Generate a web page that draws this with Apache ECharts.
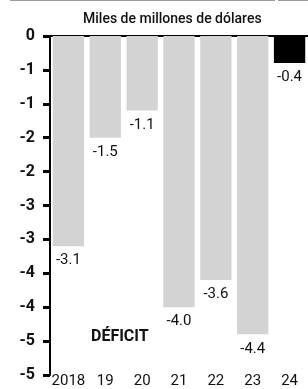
<!DOCTYPE html>
<html>
<head>
<meta charset="utf-8">
<script src="https://cdn.jsdelivr.net/npm/echarts@6/dist/echarts.min.js"></script>
<style>
    html, body { margin: 0; padding: 0; background: #fff; }
    #chart { width: 308px; height: 389px; }
</style>
</head>
<body>
<div id="chart"></div>
<script>
const years = ['2018', '19', '20', '21', '22', '23', '24'];
const deficit = [-3.1, -1.5, -1.1, -4.0, -3.6, -4.4, -0.4];
// tick labels as printed on the original, one per 0.5 step from 0 down
const yTickLabels = ['0', '-1', '-1', '-2', '-2', '-3', '-3', '-4', '-4', '-5', '-5'];

const FONT = 'Roboto, "Liberation Sans", sans-serif';

const chart = echarts.init(document.getElementById('chart'));

const option = {
    animation: false,
    title: {
        text: 'Miles de millones de dólares',
        left: 78,
        top: 7,
        textStyle: {
            fontFamily: FONT,
            fontSize: 14,
            fontWeight: 500,
            color: '#111'
        }
    },
    grid: {
        left: 50,
        top: 36,
        width: 263,
        height: 340
    },
    xAxis: [
        {
            type: 'category',
            data: years,
            position: 'bottom',
            axisLine: { show: false },
            axisTick: { show: false },
            axisLabel: {
                interval: 0,
                margin: -1,
                fontFamily: FONT,
                fontSize: 15,
                color: '#111'
            }
        },
        {
            // zero line along the top
            type: 'category',
            data: years,
            position: 'top',
            axisLine: { show: true, lineStyle: { color: '#000', width: 2 } },
            axisTick: { show: false },
            axisLabel: { show: false }
        }
    ],
    yAxis: {
        type: 'value',
        min: -5,
        max: 0,
        interval: 0.5,
        splitLine: { show: false },
        axisLine: { show: true, lineStyle: { color: '#000', width: 2 } },
        axisTick: { show: true, length: 7, lineStyle: { color: '#000', width: 3 } },
        axisLabel: {
            margin: 15,
            fontFamily: FONT,
            fontSize: 16,
            fontWeight: 'bold',
            color: '#111',
            formatter: (v) => yTickLabels[Math.round(-v / 0.5)]
        }
    },
    series: [
        {
            type: 'bar',
            data: deficit.map((v, i) => ({
                value: v,
                itemStyle: { color: i === deficit.length - 1 ? '#000' : '#d3d3d3' }
            })),
            barCategoryGap: '15%',
            label: {
                show: true,
                position: 'bottom',
                distance: 7,
                fontFamily: FONT,
                fontSize: 15,
                color: '#111',
                formatter: (p) => p.value.toFixed(1)
            }
        }
    ],
    graphic: [
        {
            type: 'text',
            left: 91,
            top: 329,
            style: {
                text: 'DÉFICIT',
                font: 'bold 16px ' + FONT,
                fill: '#111'
            }
        },
        {
            type: 'line',
            shape: { x1: 10, y1: 0.5, x2: 275, y2: 0.5 },
            style: { stroke: '#999', lineWidth: 1 }
        },
        {
            type: 'line',
            shape: { x1: 278, y1: 0.5, x2: 308, y2: 0.5 },
            style: { stroke: '#999', lineWidth: 1 }
        }
    ]
};

chart.setOption(option);
</script>
</body>
</html>
